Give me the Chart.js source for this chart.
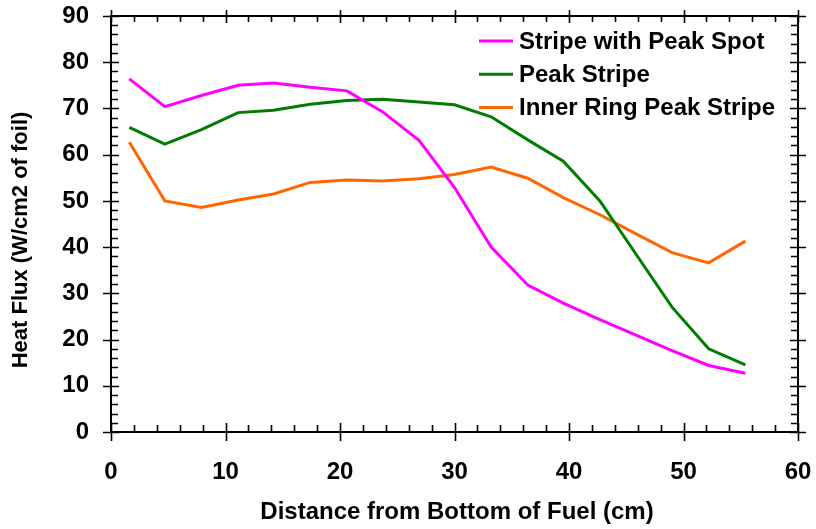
<!DOCTYPE html>
<html>
<head>
<meta charset="utf-8">
<script src="https://cdn.jsdelivr.net/npm/chart.js@4.4.1/dist/chart.umd.min.js"></script>
<style>
  html, body { margin: 0; padding: 0; background: #fff; }
  #chart { display: block; }
</style>
</head>
<body>
<canvas id="chart" width="816" height="529"></canvas>
<script>
// distance from bottom of fuel (cm)
const distances = [1.6, 4.7, 7.9, 11.1, 14.2, 17.4, 20.6, 23.7, 26.9, 30.0, 33.2, 36.4, 39.5, 42.7, 45.9, 49.0, 52.2, 55.4];
// heat flux (W/cm2 of foil)
const stripeWithPeakSpot = [76.4, 70.4, 72.8, 75.0, 75.5, 74.6, 73.8, 69.3, 63.1, 52.9, 40.0, 31.8, 27.9, 24.3, 20.9, 17.6, 14.4, 12.7];
const peakStripe = [65.9, 62.3, 65.4, 69.1, 69.6, 70.9, 71.7, 72.0, 71.4, 70.8, 68.2, 63.2, 58.6, 50.0, 38.3, 27.0, 18.0, 14.5];
const innerRingPeakStripe = [62.7, 50.0, 48.6, 50.2, 51.5, 54.0, 54.5, 54.3, 54.8, 55.7, 57.3, 54.9, 50.7, 47.0, 42.8, 38.8, 36.6, 41.3];

const seriesNames = ['Stripe with Peak Spot', 'Peak Stripe', 'Inner Ring Peak Stripe'];
const xTitle = 'Distance from Bottom of Fuel (cm)';
const yTitle = 'Heat Flux (W/cm2 of foil)';

const FONT = '"Liberation Sans", Arial, sans-serif';

const toPoints = (vals) => vals.map((v, i) => ({x: distances[i], y: v}));

// box with inside ticks on all four sides
const framePlugin = {
    id: 'frame',
    afterDraw(chart) {
        const ctx = chart.ctx;
        const a = chart.chartArea;
        const xs = chart.scales.x, ys = chart.scales.y;
        ctx.save();
        ctx.strokeStyle = '#000';
        ctx.lineWidth = 2;
        ctx.strokeRect(a.left, a.top, a.right - a.left, a.bottom - a.top);
        ctx.lineWidth = 1.6;
        ctx.beginPath();
        for (let v = 0; v <= 60; v += 2) {
            const px = Math.round(xs.getPixelForValue(v)) + 0.5;
            const major = v % 10 === 0;
            ctx.moveTo(px, a.bottom + (major ? 9 : 0));
            ctx.lineTo(px, a.bottom - (major ? 9 : 7));
            ctx.moveTo(px, a.top - (major ? 6 : 0));
            ctx.lineTo(px, a.top + (major ? 7 : 6));
        }
        for (let v = 0; v <= 90; v += 2) {
            const py = Math.round(ys.getPixelForValue(v)) + 0.5;
            const major = v % 10 === 0;
            ctx.moveTo(a.left - (major ? 8 : 0), py);
            ctx.lineTo(a.left + (major ? 8 : 7), py);
            ctx.moveTo(a.right + (major ? 8 : 0), py);
            ctx.lineTo(a.right - (major ? 8 : 7), py);
        }
        ctx.stroke();

        // axis titles
        ctx.fillStyle = '#000';
        ctx.textAlign = 'center';
        ctx.textBaseline = 'middle';
        ctx.font = 'bold 24px ' + FONT;
        ctx.fillText(xTitle, 457, 512);
        ctx.translate(21, 240);
        ctx.rotate(-Math.PI / 2);
        ctx.font = 'bold 22px ' + FONT;
        ctx.fillText(yTitle, 0, 0);
        ctx.restore();
    }
};

// legend inside plot, top right
const legendPlugin = {
    id: 'innerLegend',
    afterDraw(chart) {
        const ctx = chart.ctx;
        ctx.save();
        ctx.font = 'bold 24px ' + FONT;
        ctx.textAlign = 'left';
        ctx.textBaseline = 'middle';
        chart.data.datasets.forEach((ds, i) => {
            const y = 41 + i * 33.2;
            ctx.strokeStyle = ds.borderColor;
            ctx.lineWidth = 3;
            ctx.beginPath();
            ctx.moveTo(479, y);
            ctx.lineTo(513, y);
            ctx.stroke();
            ctx.fillStyle = '#000';
            ctx.fillText(ds.label, 519, y + 1);
        });
        ctx.restore();
    }
};

const noOverflow = (scale) => {
    scale.paddingTop = 0;
    scale.paddingBottom = 0;
    scale.paddingLeft = 0;
    scale.paddingRight = 0;
};

new Chart(document.getElementById('chart'), {
    type: 'line',
    data: {
        datasets: [
            {label: seriesNames[0], data: toPoints(stripeWithPeakSpot), borderColor: '#ff00ff'},
            {label: seriesNames[1], data: toPoints(peakStripe), borderColor: '#007d00'},
            {label: seriesNames[2], data: toPoints(innerRingPeakStripe), borderColor: '#ff6600'}
        ].map(d => Object.assign(d, {borderWidth: 3, pointRadius: 0, fill: false, tension: 0}))
    },
    options: {
        responsive: false,
        animation: false,
        layout: {padding: {top: 16, right: 18, left: 0, bottom: 0}},
        plugins: {
            legend: {display: false},
            tooltip: {enabled: false}
        },
        scales: {
            x: {
                type: 'linear',
                min: 0,
                max: 60,
                grid: {display: false, drawTicks: false},
                border: {display: false},
                ticks: {
                    stepSize: 10,
                    padding: 26,
                    color: '#000',
                    font: {family: FONT, size: 24, weight: 'bold'}
                },
                afterFit: (scale) => { scale.height = 97; noOverflow(scale); }
            },
            y: {
                min: 0,
                max: 90,
                grid: {display: false, drawTicks: false},
                border: {display: false},
                ticks: {
                    stepSize: 10,
                    padding: 22,
                    color: '#000',
                    font: {family: FONT, size: 24, weight: 'bold'}
                },
                afterFit: (scale) => { scale.width = 111; noOverflow(scale); }
            }
        }
    },
    plugins: [framePlugin, legendPlugin]
});
</script>
</body>
</html>
